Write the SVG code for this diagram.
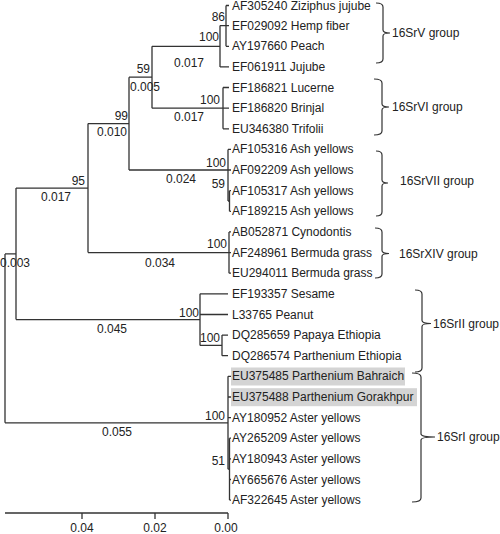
<svg xmlns="http://www.w3.org/2000/svg" width="500" height="534" viewBox="0 0 500 534">
<style>
text{font-family:"Liberation Sans",Arial,sans-serif;font-size:12px;fill:#222}
.s{text-anchor:end}
.m{text-anchor:middle}
.e path,.e line{stroke:#333;stroke-width:1.3;fill:none}
.b{stroke:#333;stroke-width:1.2;fill:none}
.hl{fill:#d4d4d4}
</style>
<rect width="500" height="534" fill="#fff"/>
<g id="highlights">
<rect class="hl" x="231" y="367.5" width="174" height="18"/>
<rect class="hl" x="231" y="388.2" width="186" height="18"/>
</g>
<g id="connectors" class="e">
<path d="M5,253.9V422.8M5,253.9H16M5,422.8H228"/>
<path d="M16,188.1V319.6M16,188.1H88M16,319.6H200"/>
<path d="M88,123.6V252.6M88,123.6H129M88,252.6H229"/>
<path d="M129,77.2V170M129,77.2H152M129,170H228"/>
<path d="M152,46.3V108.2M152,46.3H220M152,108.2H223"/>
<path d="M220,25.6V66.9M220,25.6H226M220,66.9H229"/>
<path d="M226,5.5V46.3M226,5.5H229M226,25.6H229M226,46.3H229"/>
<path d="M223,87.5V128.8M223,87.5H229M223,108.2H229M223,128.8H229"/>
<path d="M228,149.4V201M228,149.4H231M228,170H231M228,201H229.5M229.5,190.7V211.3M229.5,190.7H231M229.5,211.3H231"/>
<path d="M229,231.9V273.2M229,231.9H231M229,252.6H231M229,273.2H231"/>
<path d="M200,293.8V345.4M200,293.8H228M200,314.5H228M200,345.4H222M222,335.1V355.7M222,335.1H228M222,355.7H228"/>
<path d="M228,376.3V469.2M228,376.3H231M228,397H231M228,417.6H231M228,469.2H229.5M229.5,438.2V500.1M229.5,438.2H231M229.5,458.9H231M229.5,479.5H231M229.5,500.1H231"/>
</g>
<g id="support-values">
<text class="s" x="225" y="21">86</text>
<text class="s" x="219" y="41">100</text>
<text class="s" x="150" y="73">59</text>
<text class="s" x="220" y="104">100</text>
<text class="s" x="128" y="120">99</text>
<text class="s" x="226" y="167">100</text>
<text class="s" x="225" y="188">59</text>
<text class="s" x="85" y="185">95</text>
<text class="s" x="227" y="248">100</text>
<text class="s" x="199" y="317">100</text>
<text class="s" x="220" y="342">100</text>
<text class="s" x="225" y="420">100</text>
<text class="s" x="225" y="465">51</text>
</g>
<g id="branch-lengths">
<text class="m" x="189" y="67">0.017</text>
<text class="m" x="145" y="91">0.005</text>
<text class="m" x="189" y="121">0.017</text>
<text class="m" x="112" y="136">0.010</text>
<text class="m" x="181" y="183">0.024</text>
<text class="m" x="56" y="201">0.017</text>
<text class="m" x="15" y="266.5">0.003</text>
<text class="m" x="160" y="267">0.034</text>
<text class="m" x="112" y="333">0.045</text>
<text class="m" x="117" y="436">0.055</text>
</g>
<g id="leaves">
<text x="232" y="10">AF305240 Ziziphus jujube</text>
<text x="232" y="29.6">EF029092 Hemp fiber</text>
<text x="232" y="50.3">AY197660 Peach</text>
<text x="232" y="70.9">EF061911 Jujube</text>
<text x="232" y="91.5">EF186821 Lucerne</text>
<text x="232" y="112.2">EF186820 Brinjal</text>
<text x="232" y="132.8">EU346380 Trifolii</text>
<text x="232" y="153.4">AF105316 Ash yellows</text>
<text x="232" y="174">AF092209 Ash yellows</text>
<text x="232" y="194.7">AF105317 Ash yellows</text>
<text x="232" y="215.3">AF189215 Ash yellows</text>
<text x="232" y="235.9">AB052871 Cynodontis</text>
<text x="232" y="256.6">AF248961 Bermuda grass</text>
<text x="232" y="277.2">EU294011 Bermuda grass</text>
<text x="232" y="297.8">EF193357 Sesame</text>
<text x="232" y="318.5">L33765 Peanut</text>
<text x="232" y="339.1">DQ285659 Papaya Ethiopia</text>
<text x="232" y="359.7">DQ286574 Parthenium Ethiopia</text>
<text x="232" y="380.3">EU375485 Parthenium Bahraich</text>
<text x="232" y="401">EU375488 Parthenium Gorakhpur</text>
<text x="232" y="421.6">AY180952 Aster yellows</text>
<text x="232" y="442.2">AY265209 Aster yellows</text>
<text x="232" y="462.9">AY180943 Aster yellows</text>
<text x="232" y="483.5">AY665676 Aster yellows</text>
<text x="232" y="504.1">AF322645 Aster yellows</text>
</g>
<g id="group-16SrV">
<path class="b" d="M376,3Q383,3 383,7V30Q383,33 390,33Q383,33 383,36V59Q383,63 376,63"/>
<text x="392" y="37">16SrV group</text>
</g>
<g id="group-16SrVI">
<path class="b" d="M374,79Q382,79 382,83V104Q382,107 389,107Q382,107 382,110V131Q382,135 374,135"/>
<text x="392" y="111">16SrVI group</text>
</g>
<g id="group-16SrVII">
<path class="b" d="M376,151Q382,151 382,155V180Q382,183 388,183Q382,183 382,186V212Q382,216 376,216"/>
<text x="400" y="185">16SrVII group</text>
</g>
<g id="group-16SrXIV">
<path class="b" d="M375,228Q382,228 382,232V250.5Q382,253.5 389,253.5Q382,253.5 382,256.5V274Q382,278 375,278"/>
<text x="399" y="258">16SrXIV group</text>
</g>
<g id="group-16SrII">
<path class="b" d="M415,290Q422,290 422,294V320.5Q422,323.5 431,323.5Q422,323.5 422,326.5V368Q422,372 415,372"/>
<text x="433" y="328">16SrII group</text>
</g>
<g id="group-16SrI">
<path class="b" d="M412,373Q421,373 421,377V434Q421,437 435,437Q421,437 421,440V498Q421,502 412,502"/>
<text x="437" y="441">16SrI group</text>
</g>
<g id="scale-axis" class="e">
<path d="M5,513H228M82,513V519M155,513V519M228,513V519"/>
</g>
<g id="scale-labels">
<text class="m" x="82" y="532">0.04</text>
<text class="m" x="155" y="532">0.02</text>
<text class="m" x="226" y="532">0.00</text>
</g>
</svg>
